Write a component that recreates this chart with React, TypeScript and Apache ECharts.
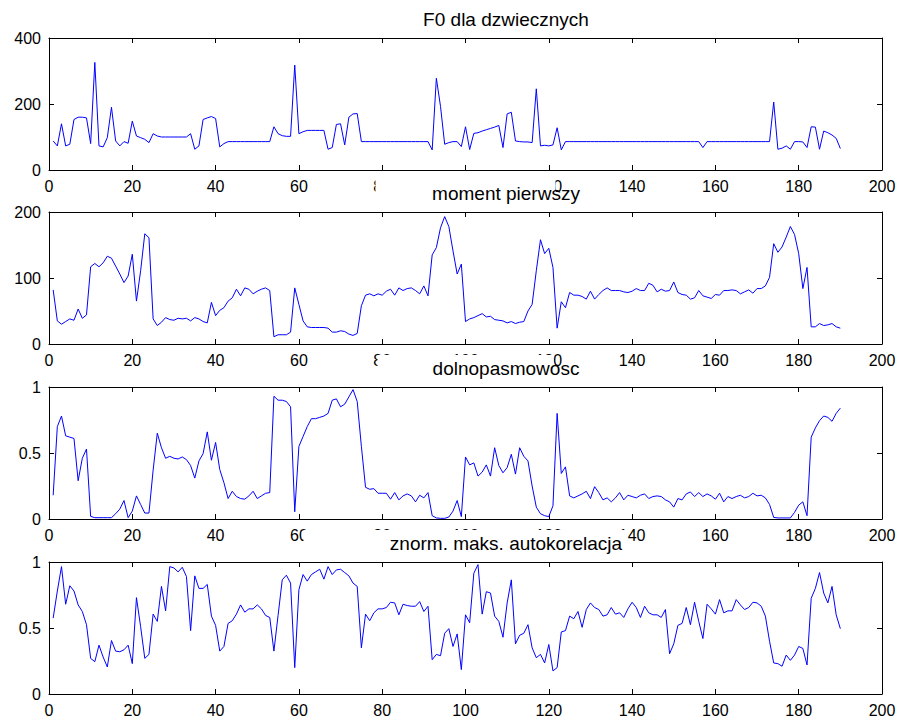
import React, { useEffect, useRef } from "react";
import * as echarts from "echarts";

const titles = ["F0 dla dzwiecznych", "moment pierwszy", "dolnopasmowosc", "znorm. maks. autokorelacja"];

const xTicks = { min: 0, max: 200, interval: 20 };
const yMax = [400, 200, 1, 1];
const yInterval = [200, 100, 0.5, 0.5];

const f0 = [
  88, 73, 140, 73, 78, 153, 160, 160, 158, 80,
  326, 73, 70, 98, 190, 88, 73, 86, 81, 148,
  103, 98, 93, 83, 110, 103, 100, 100, 100, 100,
  100, 100, 100, 110, 63, 73, 153, 158, 162, 156,
  70, 80, 86, 86, 86, 86, 86, 86, 86, 86,
  86, 86, 86, 131, 110, 104, 102, 102, 318, 110,
  116, 120, 120, 120, 120, 120, 63, 68, 138, 140,
  76, 160, 170, 171, 86, 86, 86, 86, 86, 86,
  86, 86, 86, 86, 86, 86, 86, 86, 86, 86,
  86, 61, 278, 193, 78, 83, 86, 86, 71, 131,
  62, 111, 113, 118, 122, 126, 130, 135, 68, 170,
  175, 88, 86, 85, 85, 83, 246, 73, 75, 73,
  76, 128, 61, 86, 86, 86, 86, 86, 86, 86,
  86, 86, 86, 86, 86, 86, 86, 86, 86, 86,
  86, 86, 86, 86, 86, 86, 86, 86, 86, 86,
  86, 86, 86, 86, 86, 86, 68, 86, 86, 86,
  86, 86, 86, 86, 86, 86, 86, 86, 86, 86,
  86, 86, 86, 206, 63, 66, 73, 63, 86, 86,
  85, 68, 131, 130, 63, 118, 113, 106, 96, 65,
];

const momentPierwszy = [
  82, 35, 30, 34, 38, 36, 53, 39, 44, 117,
  122, 117, 123, 133, 130, 118, 106, 93, 103, 136,
  65, 111, 167, 161, 38, 28, 33, 40, 37, 36,
  39, 38, 39, 35, 40, 38, 34, 32, 63, 43,
  51, 55, 65, 70, 83, 73, 85, 83, 76, 80,
  83, 85, 81, 11, 14, 14, 14, 18, 85, 60,
  35, 26, 25, 25, 25, 25, 24, 18, 18, 20,
  19, 15, 13, 16, 58, 74, 76, 73, 76, 74,
  80, 83, 74, 85, 81, 84, 85, 81, 76, 88,
  73, 135, 146, 176, 193, 178, 141, 106, 121, 34,
  38, 40, 43, 46, 41, 42, 37, 36, 35, 32,
  34, 31, 33, 34, 50, 60, 111, 158, 137, 145,
  116, 24, 64, 55, 78, 74, 74, 72, 68, 80,
  68, 75, 81, 85, 81, 81, 81, 79, 78, 80,
  84, 81, 81, 92, 89, 79, 83, 80, 81, 94,
  78, 75, 74, 68, 70, 81, 73, 71, 69, 75,
  74, 81, 81, 82, 81, 76, 79, 82, 77, 84,
  84, 88, 101, 152, 139, 147, 162, 178, 166, 137,
  84, 116, 26, 26, 31, 28, 29, 31, 26, 24,
];

const dolnopasmowosc = [
  0.18, 0.7, 0.78, 0.63, 0.62, 0.61, 0.29, 0.46, 0.53, 0.02,
  0.01, 0.01, 0.01, 0.01, 0.01, 0.04, 0.075, 0.14, 0.01, 0.06,
  0.175, 0.11, 0.045, 0.045, 0.37, 0.65, 0.54, 0.46, 0.475, 0.46,
  0.455, 0.47, 0.45, 0.405, 0.31, 0.44, 0.495, 0.66, 0.445, 0.58,
  0.375, 0.275, 0.155, 0.21, 0.17, 0.155, 0.15, 0.175, 0.21, 0.155,
  0.175, 0.195, 0.2, 0.93, 0.9, 0.9, 0.89, 0.85, 0.055, 0.55,
  0.625, 0.7, 0.76, 0.76, 0.77, 0.78, 0.8, 0.9, 0.91, 0.85,
  0.87, 0.925, 0.98, 0.89, 0.55, 0.24, 0.225, 0.23, 0.195, 0.195,
  0.195, 0.15, 0.2, 0.145, 0.175, 0.19, 0.175, 0.13, 0.18, 0.16,
  0.2, 0.025, 0.008, 0.005, 0.005, 0.015, 0.06, 0.14, 0.018, 0.47,
  0.41, 0.425, 0.325, 0.355, 0.41, 0.325, 0.54, 0.405, 0.35, 0.39,
  0.49, 0.34, 0.54, 0.475, 0.44, 0.25, 0.09, 0.04, 0.025, 0.018,
  0.1, 0.8, 0.345, 0.395, 0.175, 0.16, 0.175, 0.19, 0.21, 0.155,
  0.245, 0.2, 0.145, 0.16, 0.13, 0.16, 0.2, 0.145, 0.18, 0.17,
  0.16, 0.18, 0.19, 0.155, 0.17, 0.175, 0.17, 0.145, 0.13, 0.09,
  0.155, 0.145, 0.19, 0.205, 0.17, 0.2, 0.17, 0.19, 0.175, 0.15,
  0.195, 0.13, 0.17, 0.155, 0.17, 0.18, 0.16, 0.17, 0.195, 0.175,
  0.18, 0.16, 0.11, 0.012, 0.008, 0.008, 0.008, 0.008, 0.05, 0.105,
  0.13, 0.025, 0.62, 0.69, 0.745, 0.78, 0.77, 0.74, 0.8, 0.84,
];

const autokorelacja = [
  0.575, 0.78, 0.965, 0.68, 0.82, 0.78, 0.675, 0.625, 0.525, 0.27,
  0.245, 0.37, 0.28, 0.205, 0.405, 0.325, 0.32, 0.335, 0.37, 0.23,
  0.73, 0.51, 0.27, 0.3, 0.605, 0.55, 0.815, 0.63, 0.965, 0.955,
  0.925, 0.96, 0.89, 0.48, 0.895, 0.8, 0.8, 0.83, 0.59, 0.52,
  0.325, 0.36, 0.535, 0.555, 0.605, 0.675, 0.62, 0.645, 0.645, 0.675,
  0.645, 0.595, 0.58, 0.325, 0.595, 0.865, 0.9, 0.84, 0.2, 0.79,
  0.905, 0.855, 0.905, 0.925, 0.945, 0.87, 0.965, 0.905, 0.94, 0.945,
  0.92, 0.895, 0.84, 0.815, 0.35, 0.605, 0.555, 0.615, 0.645, 0.645,
  0.655, 0.695, 0.69, 0.6, 0.68, 0.67, 0.665, 0.665, 0.7, 0.625,
  0.665, 0.26, 0.3, 0.29, 0.46, 0.495, 0.36, 0.455, 0.185, 0.6,
  0.54, 0.915, 0.98, 0.605, 0.775, 0.765, 0.59, 0.55, 0.43, 0.69,
  0.865, 0.38, 0.445, 0.46, 0.525, 0.35, 0.275, 0.3, 0.235, 0.375,
  0.175, 0.2, 0.47, 0.48, 0.59, 0.57, 0.625, 0.505, 0.64, 0.69,
  0.655, 0.64, 0.59, 0.6, 0.655, 0.605, 0.615, 0.58, 0.645, 0.695,
  0.655, 0.58, 0.665, 0.615, 0.6, 0.6, 0.58, 0.64, 0.305, 0.38,
  0.52, 0.535, 0.655, 0.525, 0.695, 0.55, 0.42, 0.68, 0.645, 0.605,
  0.715, 0.615, 0.63, 0.63, 0.715, 0.675, 0.64, 0.655, 0.695, 0.69,
  0.665, 0.59, 0.4, 0.235, 0.23, 0.21, 0.295, 0.255, 0.295, 0.36,
  0.345, 0.22, 0.725, 0.8, 0.92, 0.765, 0.69, 0.815, 0.6, 0.495,
];

const seriesValues = [f0, momentPierwszy, dolnopasmowosc, autokorelacja];

const FONT = "'Liberation Sans', Arial, sans-serif";
const gridTops = [38, 212, 387, 562];
const gridHeight = 132;
const gridLeft = 49;
const gridRight = 22;
// white backing box of each title (horizontal extent, centred on the axes)
const titleBoxHalfWidth = [0, 90, 88, 162];

export default function App() {
  const ref = useRef<HTMLDivElement>(null);

  useEffect(() => {
    if (!ref.current) return;
    const chart = echarts.init(ref.current, null, { renderer: "svg" });

    const axisLine = { show: true, onZero: false, lineStyle: { color: "#000", width: 1 } };
    const axisTick = { show: true, inside: true, length: 5, lineStyle: { color: "#000", width: 1 } };
    const labelStyle = { color: "#000", fontSize: 16, fontFamily: FONT };

    const grids: any[] = [];
    const xAxes: any[] = [];
    const yAxes: any[] = [];
    const series: any[] = [];
    const graphics: any[] = [];
    const axesCenter = gridLeft + (904 - gridLeft - gridRight) / 2;

    seriesValues.forEach((vals, i) => {
      grids.push({ left: gridLeft, right: gridRight, top: gridTops[i], height: gridHeight, containLabel: false });
      xAxes.push({
        type: "value", gridIndex: i, position: "bottom", min: xTicks.min, max: xTicks.max, interval: xTicks.interval,
        axisLine, axisTick, splitLine: { show: false },
        axisLabel: { ...labelStyle, margin: 8 },
      });
      xAxes.push({
        type: "value", gridIndex: i, position: "top", min: xTicks.min, max: xTicks.max, interval: xTicks.interval,
        axisLine, axisTick, splitLine: { show: false }, axisLabel: { show: false },
      });
      yAxes.push({
        type: "value", gridIndex: i, position: "left", min: 0, max: yMax[i], interval: yInterval[i],
        axisLine, axisTick, splitLine: { show: false },
        axisLabel: { ...labelStyle, margin: 8 },
      });
      yAxes.push({
        type: "value", gridIndex: i, position: "right", min: 0, max: yMax[i], interval: yInterval[i],
        axisLine, axisTick, splitLine: { show: false }, axisLabel: { show: false },
      });
      series.push({
        type: "line",
        xAxisIndex: 2 * i,
        yAxisIndex: 2 * i,
        data: vals.map((v, k) => [k + 1, v]),
        showSymbol: false,
        symbol: "none",
        lineStyle: { color: "#0000ff", width: 1 },
        silent: true,
      });
      if (titleBoxHalfWidth[i] > 0) {
        graphics.push({
          type: "rect",
          z: 100,
          shape: {
            x: axesCenter - titleBoxHalfWidth[i],
            y: gridTops[i] - 32,
            width: 2 * titleBoxHalfWidth[i],
            height: 24,
          },
          style: { fill: "#fff" },
        });
      }
      graphics.push({
        type: "text",
        z: 101,
        x: 506,
        y: gridTops[i] - 19,
        style: {
          text: titles[i],
          fill: "#000",
          font: `19px ${FONT}`,
          textAlign: "center",
          textVerticalAlign: "middle",
        },
      });
    });

    chart.setOption({
      animation: false,
      backgroundColor: "#fff",
      grid: grids,
      xAxis: xAxes,
      yAxis: yAxes,
      series,
      graphic: graphics,
    });

    return () => chart.dispose();
  }, []);

  return <div ref={ref} style={{ position: "fixed", left: 0, top: 0, width: 904, height: 727, background: "#fff" }} />;
}
